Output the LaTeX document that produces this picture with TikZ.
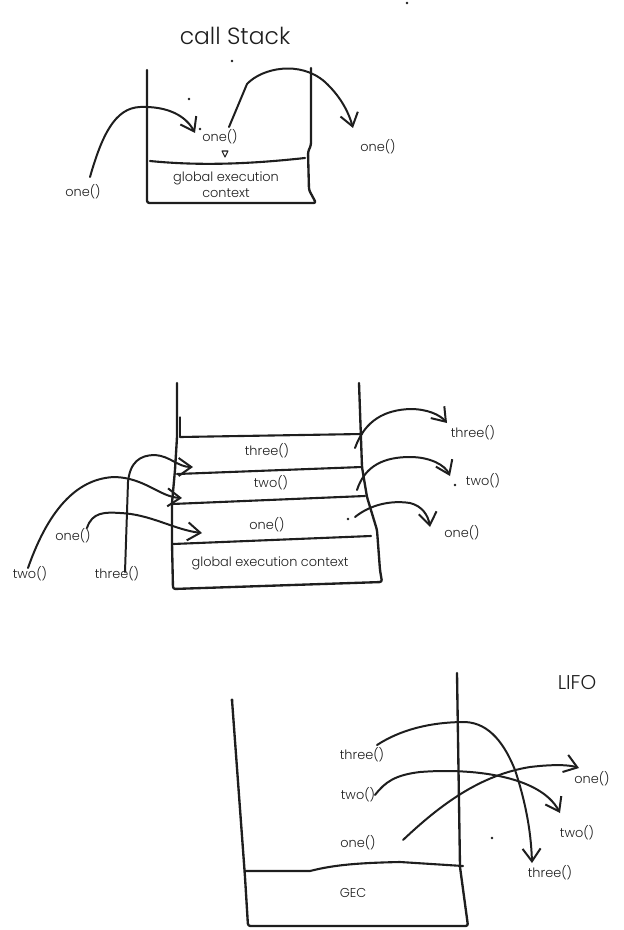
\documentclass[tikz,border=0pt]{standalone}
\usepackage{fontspec}
\setmainfont{Poppins}[UprightFont=* Light]
\usetikzlibrary{arrows.meta}
\definecolor{ink}{HTML}{1E1E1E}
\tikzset{
  wall/.style={line width=2pt,line join=round,line cap=round,draw=ink,rounded corners=2pt},
  shelf/.style={line width=1.8pt,line cap=round,draw=ink},
  ar/.style={-{Straight Barb[length=3.8mm,width=5.4mm]},line width=1.7pt,line cap=round,draw=ink},
  lab/.style={font=\fontsize{11}{13.5}\selectfont,text=ink,inner sep=1pt},
  ttl/.style={font=\fontsize{20}{24}\selectfont,text=ink},
  speck/.style={fill=ink},
}
\begin{document}
\begin{tikzpicture}[x=0.03cm,y=-0.03cm]
\useasboundingbox (0,0) rectangle (624,930);
% ---- 1: call stack with one() ----
\node[ttl] (title) at (235,36) {call Stack};
\draw[wall] (147,70) -- (147,203) -- (316,203) -- (309,190) -- (308,152) -- (311,145) -- (311,68);
\draw[shelf] (150,161) .. controls (200,166) and (250,164) .. (305,158);
\node[lab] (oneA) at (220,137) {one()};
\node[lab,align=center] (gecA) at (226,185) {global execution\\context};
\node[lab] (oneAin) at (83,192) {one()};
\node[lab] (oneAout) at (378,147) {one()};
\draw[line width=0.9pt,draw=ink,line join=round] (222,151) -- (228,151) -- (225,157) -- cycle;
\foreach \p in {(407,3),(232,61),(189,99),(200,129)} \fill[speck] \p circle (1.4);
\coordinate (inA) at (90,177);
\coordinate (tipA) at (195,133);
\coordinate (outA) at (229,127);
\coordinate (tipA2) at (353,128);
\draw[ar] (inA) .. controls (102,135) and (115,108) .. (140,107) .. controls (168,106) and (186,116) .. (tipA);
\draw[ar] (outA) -- (247,84) .. controls (262,68) and (300,60) .. (325,82) .. controls (339,95) and (348,110) .. (tipA2);

% ---- 2: three frames pushed and popped ----
\draw[wall] (177,383) -- (177,437) -- (175,470) -- (172,503) -- (172,543) -- (173,589) -- (382,582) -- (380,570) -- (377,530) -- (367,497) -- (362,467) -- (359,383);
\draw[shelf,line width=1pt] (180,417) -- (180,437);
\draw[shelf] (180,437) -- (362,434);
\draw[shelf] (177,474) -- (362,467);
\draw[shelf] (172,504) -- (365,496);
\draw[shelf] (173,544) -- (371,536);
\node[lab] (threeB) at (267,451) {three()};
\node[lab] (twoB) at (271,483) {two()};
\node[lab] (oneB) at (267,525) {one()};
\node[lab] (gecB) at (270,563) {global execution context};
\node[lab] (oneBin) at (73,536) {one()};
\node[lab] (twoBin) at (30,574) {two()};
\node[lab] (threeBin) at (117,574) {three()};
\node[lab] (threeBout) at (473,433) {three()};
\node[lab] (twoBout) at (483,481) {two()};
\node[lab] (oneBout) at (462,533) {one()};
\foreach \p in {(455,485),(348,519)} \fill[speck] \p circle (1.4);
\coordinate (inB3) at (125,572);
\coordinate (tipB3) at (193,467);
\coordinate (inB2) at (28,568);
\coordinate (tipB2) at (182,498);
\coordinate (inB1) at (87,528);
\coordinate (tipB1) at (202,533);
\draw[ar] (inB3) -- (128,482) .. controls (130,462) and (140,455) .. (155,455) .. controls (170,456) and (178,467) .. (tipB3);
\draw[ar] (inB2) .. controls (50,505) and (80,478) .. (115,477) .. controls (145,478) and (160,497) .. (tipB2);
\draw[ar] (inB1) .. controls (92,512) and (105,512) .. (120,513) .. controls (150,514) and (175,530) .. (tipB1);
\coordinate (outB3) at (355,448);
\coordinate (tipB3o) at (447,423);
\coordinate (outB2) at (357,490);
\coordinate (tipB2o) at (450,476);
\coordinate (outB1) at (355,517);
\coordinate (tipB1o) at (430,527);
\draw[ar] (outB3) .. controls (365,420) and (385,410) .. (410,409) .. controls (428,409) and (440,415) .. (tipB3o);
\draw[ar] (outB2) .. controls (365,465) and (385,457) .. (410,457) .. controls (430,457) and (445,465) .. (tipB2o);
\draw[ar] (outB1) .. controls (370,505) and (390,500) .. (410,503) .. controls (422,506) and (428,515) .. (tipB1o);

% ---- 3: LIFO ----
\node[ttl,font=\fontsize{17}{20}\selectfont] (lifo) at (577,683) {LIFO};
\draw[wall] (232,700) -- (245,877) -- (248,926) -- (468,926) -- (460,867) -- (457,673);
\fill[speck] (232,700) circle (1.6);
\draw[shelf] (245,871) -- (310,871) .. controls (330,866) and (350,863) .. (400,862) -- (463,866);
\node[lab] (gecC) at (353,893) {GEC};
\node[lab] (threeC) at (362,755) {three()};
\node[lab] (twoC) at (358,795) {two()};
\node[lab] (oneC) at (358,843) {one()};
\node[lab] (oneCout) at (592,779) {one()};
\node[lab] (twoCout) at (577,833) {two()};
\node[lab] (threeCout) at (550,873) {three()};
\fill[speck] (492,838) circle (1.4);
\coordinate (outC3) at (377,745);
\coordinate (tipC3) at (532,863);
\coordinate (outC2) at (375,795);
\coordinate (tipC2) at (560,813);
\coordinate (outC1) at (403,840);
\coordinate (tipC1) at (579,768);
\draw[ar] (outC3) .. controls (400,730) and (430,722) .. (465,722) .. controls (490,723) and (505,745) .. (515,770) .. controls (525,800) and (531,830) .. (tipC3);
\draw[ar] (outC2) .. controls (385,782) and (395,775) .. (420,772) .. controls (470,768) and (540,775) .. (tipC2);
\draw[ar] (outC1) .. controls (440,805) and (480,775) .. (530,767) .. controls (555,764) and (570,765) .. (tipC1);
\end{tikzpicture}
\end{document}
